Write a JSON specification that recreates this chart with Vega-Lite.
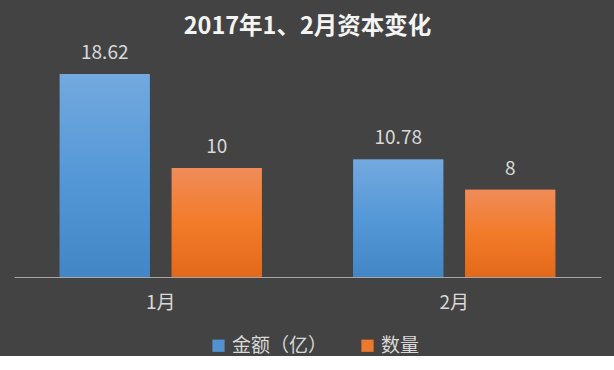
{
  "$schema": "https://vega.github.io/schema/vega-lite/v6.json",
  "width": 587,
  "height": 218,
  "padding": {"left": 14, "right": 13, "top": 14, "bottom": 0},
  "background": "#434343",
  "title": {
    "text": "2017年1、2月资本变化",
    "fontSize": 23.5,
    "font": "Noto Sans CJK SC",
    "fontWeight": "bold",
    "color": "#f4f4f4",
    "offset": 6,
    "anchor": "middle"
  },
  "data": {
    "values": [
      {"month": "1月", "series": "金额（亿）", "value": 18.62},
      {"month": "1月", "series": "数量", "value": 10},
      {"month": "2月", "series": "金额（亿）", "value": 10.78},
      {"month": "2月", "series": "数量", "value": 8}
    ]
  },
  "encoding": {
    "x": {
      "field": "month",
      "type": "nominal",
      "sort": ["1月", "2月"],
      "title": null,
      "scale": {"paddingInner": 0.3118, "paddingOuter": 0.1559}
    },
    "xOffset": {
      "field": "series",
      "type": "nominal",
      "sort": ["金额（亿）", "数量"],
      "scale": {"paddingInner": 0.1964, "paddingOuter": 0}
    },
    "y": {
      "field": "value",
      "type": "quantitative",
      "scale": {"domain": [0, 20]},
      "axis": null
    }
  },
  "layer": [
    {
      "mark": {"type": "bar"},
      "encoding": {
        "color": {
          "field": "series",
          "type": "nominal",
          "scale": {"domain": ["金额（亿）", "数量"], "range": ["#5292d2", "#ec7a2e"]},
          "legend": {"title": null, "orient": "none", "legendX": 195, "legendY": 277}
        }
      }
    },
    {
      "mark": {"type": "bar"},
      "encoding": {
        "fill": {
          "condition": {
            "test": "datum.series === '数量'",
            "value": {"gradient": "linear", "x1": 0, "y1": 0, "x2": 0, "y2": 1,
              "stops": [{"offset": 0, "color": "#f08c59"}, {"offset": 0.5, "color": "#f27b2a"}, {"offset": 1, "color": "#e2691a"}]}
          },
          "value": {"gradient": "linear", "x1": 0, "y1": 0, "x2": 0, "y2": 1,
            "stops": [{"offset": 0, "color": "#73a9de"}, {"offset": 0.5, "color": "#5598d8"}, {"offset": 1, "color": "#4386c6"}]}
        }
      }
    },
    {
      "mark": {
        "type": "text",
        "baseline": "bottom",
        "dy": -11,
        "font": "Noto Sans CJK SC",
        "fontSize": 19,
        "color": "#d9d9d9"
      },
      "encoding": {
        "text": {"field": "value", "type": "nominal"}
      }
    }
  ],
  "config": {
    "view": {"stroke": null},
    "axisX": {
      "domainColor": "#a6a6a6",
      "domainWidth": 1,
      "ticks": false,
      "grid": false,
      "labelAngle": 0,
      "labelFont": "Noto Sans CJK SC",
      "labelFontSize": 19,
      "labelColor": "#d9d9d9",
      "labelPadding": 16
    },
    "legend": {
      "direction": "horizontal",
      "symbolType": "square",
      "symbolSize": 150,
      "symbolStrokeWidth": 0,
      "labelFont": "Noto Sans CJK SC",
      "labelFontSize": 19,
      "labelColor": "#d9d9d9",
      "columnPadding": 30,
      "labelOffset": 4
    }
  }
}
